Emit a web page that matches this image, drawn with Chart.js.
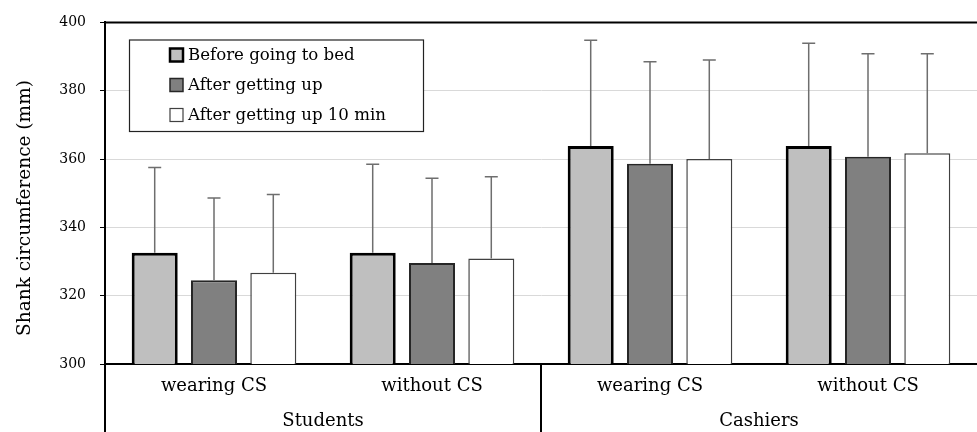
<!DOCTYPE html>
<html>
<head>
<meta charset="utf-8">
<script src="https://cdn.jsdelivr.net/npm/chart.js@4.4.0/dist/chart.umd.min.js"></script>
<style>
html,body{margin:0;padding:0;background:#fff;}
#wrap{width:977px;height:432px;position:relative;}
</style>
</head>
<body>
<div id="wrap"><canvas id="c" width="977" height="432"></canvas></div>
<script>
const categories = ['wearing CS', 'without CS', 'wearing CS', 'without CS'];
const groups = ['Students', 'Cashiers'];
const seriesNames = ['Before going to bed', 'After getting up', 'After getting up 10 min'];
const yTitle = 'Shank circumference (mm)';
const beforeBed = [332.6, 332.6, 363.8, 363.8];
const afterUp = [324.5, 329.6, 358.6, 360.7];
const afterUp10 = [326.7, 330.9, 360.0, 361.7];
const beforeBedErr = [24.9, 25.9, 31.0, 30.1];
const afterUpErr = [24.1, 24.8, 29.9, 30.1];
const afterUp10Err = [22.9, 23.9, 29.0, 29.1];
const yTicks = [300, 320, 340, 360, 380, 400];

const FONT = 'DejaVu Serif';
const errors = [beforeBedErr, afterUpErr, afterUp10Err];

const styles = [
  {bg: '#bfbfbf', border: '#000000', bw: 3},
  {bg: '#808080', border: '#262626', bw: 2},
  {bg: '#ffffff', border: '#404040', bw: 1.5}
];

const extras = {
  id: 'extras',
  afterDatasetsDraw(chart) {
    const ctx = chart.ctx;
    const ca = chart.chartArea;
    const y = chart.scales.y;
    const x = chart.scales.x;
    // error bars
    ctx.save();
    ctx.strokeStyle = '#6e6e6e';
    ctx.lineWidth = 1.5;
    chart.data.datasets.forEach((ds, di) => {
      const meta = chart.getDatasetMeta(di);
      meta.data.forEach((el, i) => {
        const top = y.getPixelForValue(ds.data[i] + errors[di][i]);
        ctx.beginPath();
        ctx.moveTo(el.x, el.y);
        ctx.lineTo(el.x, top);
        ctx.moveTo(el.x - 6.5, top);
        ctx.lineTo(el.x + 6.5, top);
        ctx.stroke();
      });
    });
    ctx.restore();
    // top border
    ctx.save();
    ctx.strokeStyle = '#000';
    ctx.lineWidth = 2;
    ctx.beginPath();
    ctx.moveTo(ca.left - 1, ca.top);
    ctx.lineTo(ca.right, ca.top);
    ctx.stroke();
    // left axis extension and group divider
    ctx.beginPath();
    ctx.moveTo(ca.left, ca.bottom);
    ctx.lineTo(ca.left, chart.height);
    const mid = (x.getPixelForValue(1) + x.getPixelForValue(2)) / 2;
    ctx.moveTo(mid, ca.bottom);
    ctx.lineTo(mid, chart.height);
    ctx.stroke();
    // group labels
    ctx.fillStyle = '#000';
    ctx.font = '18px "' + FONT + '"';
    ctx.textAlign = 'center';
    ctx.textBaseline = 'middle';
    groups.forEach((g, gi) => {
      const cx = (x.getPixelForValue(gi * 2) + x.getPixelForValue(gi * 2 + 1)) / 2;
      ctx.fillText(g, cx, 421);
    });
    // y title
    ctx.save();
    ctx.translate(25, 208);
    ctx.rotate(-Math.PI / 2);
    ctx.font = '18.5px "' + FONT + '"';
    ctx.fillText(yTitle, 0, 0);
    ctx.restore();
    ctx.restore();
    // legend
    ctx.save();
    const lx = 129, ly = 39.5, lw = 294, lh = 91.5;
    ctx.fillStyle = '#fff';
    ctx.fillRect(lx, ly, lw, lh);
    ctx.strokeStyle = '#222';
    ctx.lineWidth = 1.2;
    ctx.strokeRect(lx + 0.5, ly + 0.5, lw, lh);
    ctx.font = '16.6px "' + FONT + '"';
    ctx.textAlign = 'left';
    ctx.textBaseline = 'middle';
    seriesNames.forEach((name, i) => {
      const cy = 55 + i * 30;
      const s = styles[i];
      ctx.fillStyle = s.bg;
      ctx.fillRect(170, cy - 6.5, 13, 13);
      ctx.strokeStyle = s.border;
      ctx.lineWidth = s.bw === 3 ? 2.5 : (s.bw === 2 ? 1.5 : 1.2);
      ctx.strokeRect(170, cy - 6.5, 13, 13);
      ctx.fillStyle = '#000';
      ctx.fillText(name, 188, cy + 1);
    });
    ctx.restore();
  }
};

const datasets = [beforeBed, afterUp, afterUp10].map((d, i) => ({
  label: seriesNames[i],
  data: d,
  backgroundColor: styles[i].bg,
  borderColor: styles[i].border,
  borderWidth: styles[i].bw,
  borderSkipped: 'bottom',
  categoryPercentage: 0.816,
  barPercentage: 0.776
}));

new Chart(document.getElementById('c'), {
  type: 'bar',
  data: { labels: categories, datasets: datasets },
  options: {
    responsive: false,
    animation: false,
    devicePixelRatio: 1,
    layout: { padding: { top: 20, right: 0, left: 0, bottom: 0 } },
    plugins: { legend: { display: false }, tooltip: { enabled: false } },
    scales: {
      x: {
        grid: { display: false, drawTicks: false },
        border: { display: true, color: '#000', width: 2 },
        ticks: { color: '#000', font: { family: FONT, size: 18 }, padding: 12, maxRotation: 0 },
        afterFit(s) { s.height = 68; }
      },
      y: {
        min: 300, max: 400,
        afterBuildTicks(s) { s.ticks = yTicks.map(v => ({ value: v })); },
        grid: { color: '#d9d9d9', lineWidth: 1, tickLength: 5, tickColor: '#000' },
        border: { display: true, color: '#000', width: 2 },
        ticks: { color: '#000', font: { family: FONT, size: 14 }, padding: 14 },
        title: { display: false },
        afterFit(s) { s.width = 105; }
      }
    }
  },
  plugins: [extras]
});
</script>
</body>
</html>
